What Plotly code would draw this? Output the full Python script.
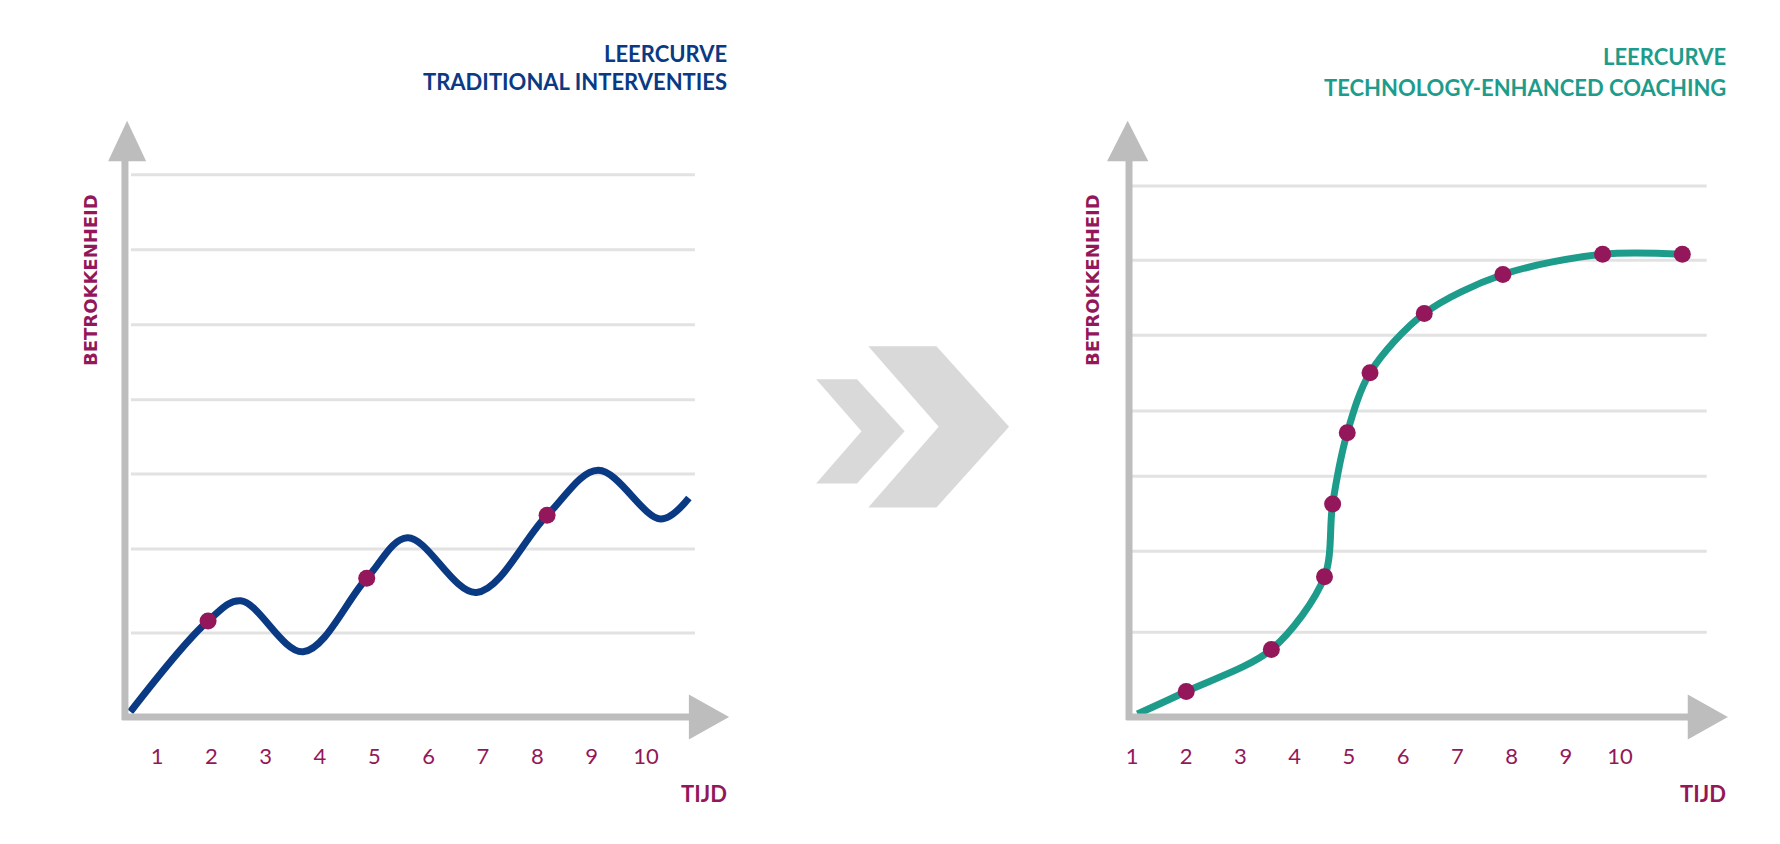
import plotly.graph_objects as go

# ---- data ----
ticks = [1, 2, 3, 4, 5, 6, 7, 8, 9, 10]
tick_labels = ["1", "2", "3", "4", "5", "6", "7", "8", "9", "10"]

trad_x = [0.51, 1.94, 2.54, 3.69, 4.86, 5.61, 6.88, 8.18, 9.12, 10.27, 10.79]
trad_y = [0.07, 1.28, 1.55, 0.87, 1.85, 2.39, 1.66, 2.69, 3.29, 2.64, 2.92]
trad_mark_x = [1.94, 4.86, 8.18]
trad_mark_y = [1.28, 1.85, 2.69]
trad_grid = [1.12, 2.24, 3.24, 4.23, 5.23, 6.23, 7.23]

tech_x = [1.10, 2.00, 3.57, 4.55, 4.70, 4.97, 5.39, 6.39, 7.84, 9.68, 11.15]
tech_y = [0.04, 0.34, 0.90, 1.87, 2.84, 3.79, 4.59, 5.38, 5.90, 6.17, 6.17]
tech_mark_x = tech_x[1:]
tech_mark_y = tech_y[1:]
tech_grid = [1.13, 2.21, 3.21, 4.08, 5.09, 6.09, 7.08]

W, H = 1780, 844
NAVY = "#0b3a84"
TEAL = "#1e9c8b"
PURPLE = "#93175a"
AXG = "#bdbdbd"
GRID = "#e2e2e2"

fig = go.Figure()
fig.add_trace(go.Scatter(x=trad_x, y=trad_y, mode="lines", line=dict(color=NAVY, width=7, shape="spline", smoothing=1.0), xaxis="x", yaxis="y", hoverinfo="skip"))
fig.add_trace(go.Scatter(x=trad_mark_x, y=trad_mark_y, mode="markers", marker=dict(color=PURPLE, size=17), xaxis="x", yaxis="y"))
fig.add_trace(go.Scatter(x=tech_x, y=tech_y, mode="lines", line=dict(color=TEAL, width=7, shape="spline", smoothing=0.9), xaxis="x2", yaxis="y2", hoverinfo="skip"))
fig.add_trace(go.Scatter(x=tech_mark_x, y=tech_mark_y, mode="markers", marker=dict(color=PURPLE, size=17), xaxis="x2", yaxis="y2"))

shapes = []
def axis_shapes(xr, yr, x0, xg0, xg1, grid, yhead, xhead):
    for g in grid:
        shapes.append(dict(type="line", xref=xr, yref=yr, x0=xg0, x1=xg1, y0=g, y1=g, line=dict(color=GRID, width=3), layer="below"))
    shapes.append(dict(type="line", xref=xr, yref=yr, x0=x0, x1=x0, y0=-0.04, y1=7.45, line=dict(color=AXG, width=7)))
    shapes.append(dict(type="path", xref=xr, yref=yr, path=f"M {yhead[0]} 7.41 L {yhead[1]} 7.95 L {yhead[2]} 7.41 Z", fillcolor=AXG, line=dict(width=0)))
    shapes.append(dict(type="line", xref=xr, yref=yr, x0=x0 - 0.05, x1=xhead[0] + 0.05, y0=0, y1=0, line=dict(color=AXG, width=7)))
    shapes.append(dict(type="path", xref=xr, yref=yr, path=f"M {xhead[0]} 0.30 L {xhead[1]} 0 L {xhead[0]} -0.30 Z", fillcolor=AXG, line=dict(width=0)))

axis_shapes("x", "y", 0.41, 0.52, 10.9, trad_grid, (0.10, 0.45, 0.80), (10.79, 11.53))
axis_shapes("x2", "y2", 0.945, 1.0, 11.6, tech_grid, (0.54, 0.92, 1.30), (11.25, 11.99))

def P(px, py):
    return f"{px/W:.5f} {1-py/H:.5f}"
s = 1.135
small = [(712, 327), (748, 327), (790, 373), (748, 419), (712, 419), (752, 373)]
big = [(758, 298), (818, 298), (882, 369), (818, 440), (758, 440), (820, 369)]
for chev in (small, big):
    path = "M " + " L ".join(P(a * s, b * s) for a, b in chev) + " Z"
    shapes.append(dict(type="path", xref="paper", yref="paper", path=path, fillcolor="#d9d9d9", line=dict(width=0), layer="below"))

ann = []
def text(x, y, t, color, size, xanchor="right", angle=0, family="Lato"):
    ann.append(dict(x=x / W, y=1 - y / H, xref="paper", yref="paper", text=t, showarrow=False,
                    xanchor=xanchor, yanchor="middle", textangle=angle,
                    font=dict(family=family, size=size, color=color, weight="bold")))

text(721, 45, "LEERCURVE", NAVY, 22)
text(721, 74, "TRADITIONAL INTERVENTIES", NAVY, 22)
text(1720, 48, "LEERCURVE", TEAL, 22)
text(1720, 80, "TECHNOLOGY-ENHANCED COACHING", TEAL, 22)
text(82, 272, "BETROKKENHEID", PURPLE, 18, xanchor="center", angle=-90, family="DejaVu Sans")
text(1084, 272, "BETROKKENHEID", PURPLE, 18, xanchor="center", angle=-90, family="DejaVu Sans")
text(721, 785, "TIJD", PURPLE, 22)
text(1720, 785, "TIJD", PURPLE, 22)

YB = 733
def xax(domain, rng):
    return dict(domain=domain, range=rng, tickvals=ticks, ticktext=tick_labels, showgrid=False, zeroline=False,
                showline=False, ticks="", ticklabelstandoff=0,
                tickfont=dict(family="Lato", size=22, color=PURPLE))
def yax(anchor):
    return dict(domain=[1 - YB / H, 1 - 60 / H], range=[(709 - YB) / 75, (709 - 60) / 75], visible=False, anchor=anchor)

fig.update_layout(
    width=W, height=H, margin=dict(l=0, r=0, t=0, b=0),
    paper_bgcolor="white", plot_bgcolor="rgba(0,0,0,0)", showlegend=False,
    xaxis=dict(**xax([100 / W, 740 / W], [0.098, 11.878]), anchor="y"),
    yaxis=yax("x"),
    xaxis2=dict(**xax([980 / W, 1760 / W], [-1.656, 12.73]), anchor="y2"),
    yaxis2=yax("x2"),
    shapes=shapes, annotations=ann,
)
fig.write_html("out.html")
